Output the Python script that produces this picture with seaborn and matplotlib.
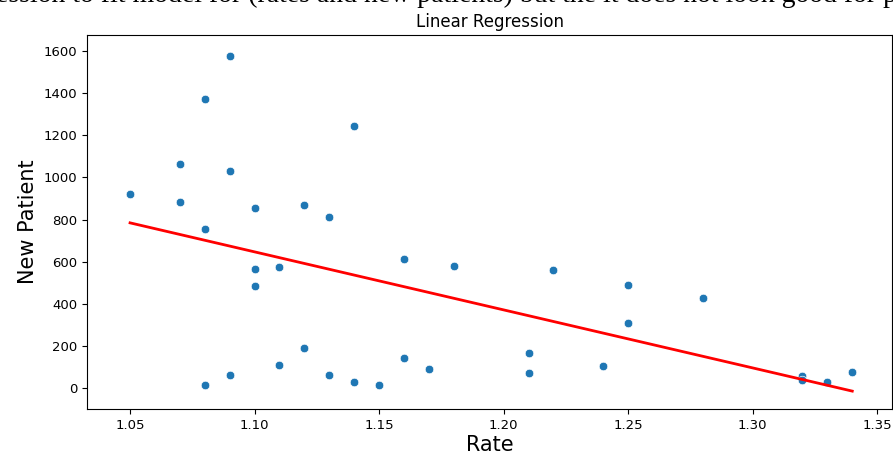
import numpy as np
import pandas as pd
import matplotlib
matplotlib.use("Agg")
import matplotlib.pyplot as plt
import seaborn as sns

# Data
rate = [1.05, 1.07, 1.07, 1.08, 1.08, 1.08, 1.09, 1.09, 1.09,
        1.10, 1.10, 1.10, 1.11, 1.11, 1.12, 1.12, 1.13, 1.13,
        1.14, 1.14, 1.15, 1.16, 1.16, 1.17, 1.18, 1.21, 1.21,
        1.22, 1.24, 1.25, 1.25, 1.28, 1.32, 1.32, 1.33, 1.34]
new_patient = [920, 1062, 884, 1370, 757, 14, 1575, 1031, 64,
               854, 565, 484, 574, 109, 871, 188, 812, 64,
               1245, 28, 14, 612, 142, 91, 580, 164, 69,
               562, 105, 488, 310, 425, 59, 38, 28, 78]
x_ticks = [1.05, 1.10, 1.15, 1.20, 1.25, 1.30, 1.35]
y_ticks = [0, 200, 400, 600, 800, 1000, 1200, 1400, 1600]

df = pd.DataFrame({"Rate": rate, "New Patient": new_patient})

# Linear regression fit
coef = np.polyfit(df["Rate"], df["New Patient"], 1)
df["Predicted"] = np.polyval(coef, df["Rate"])

fig = plt.figure(figsize=(8.93, 4.55), dpi=100)
ax = fig.add_axes([0.0974, 0.101, 0.9016, 0.822])

sns.scatterplot(data=df, x="Rate", y="New Patient", ax=ax, color="#1f77b4", s=38)
sns.lineplot(data=df, x="Rate", y="Predicted", ax=ax, color="red", linewidth=2,
             errorbar=None)

ax.set_xlim(1.0327, 1.356)
ax.set_ylim(-100, 1676)
ax.set_xticks(x_ticks)
ax.set_yticks(y_ticks)
ax.tick_params(labelsize=9.5)
ax.set_xlabel("Rate", fontsize=15, labelpad=2)
ax.set_ylabel("New Patient", fontsize=15)
ax.set_title("Linear Regression", fontsize=12)

fig.text(-0.004, 0.995,
         "ession to fit model for (rates and new patients) but the it does not look good for prediction",
         family="Liberation Serif", fontsize=20, va="baseline", ha="left")

fig.savefig("out.png", dpi=100)
